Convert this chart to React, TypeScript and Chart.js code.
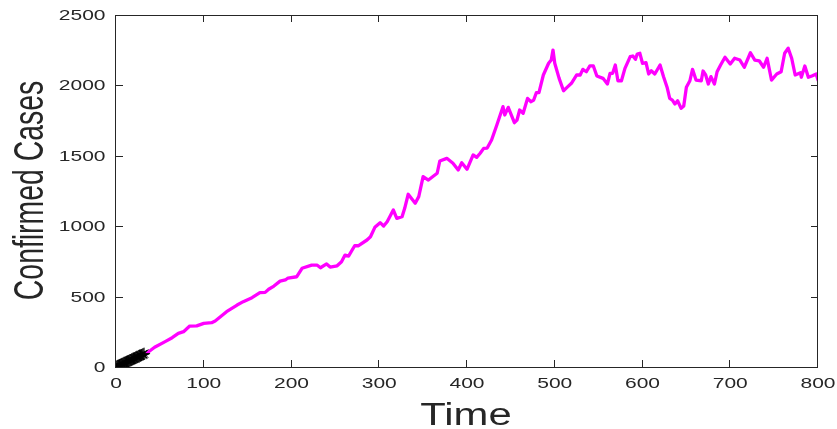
import React, { useEffect, useRef } from "react";
import { Chart, registerables } from "chart.js";

Chart.register(...registerables);

// Magenta curve: time and confirmed cases
const lineT = [0, 12, 24, 35, 44, 56, 64, 71, 77, 84, 92, 100, 109, 113, 119, 126, 138, 145, 155, 164, 170, 174, 180, 187, 193, 196, 206, 212, 223, 229, 233, 240, 244, 252, 257, 261, 265, 272, 276, 286, 290, 295, 301, 305, 309, 312, 316, 320, 326, 329, 333, 341, 345, 350, 356, 366, 369, 377, 384, 390, 394, 400, 407, 411, 415, 419, 423, 428, 434, 441, 443, 447, 454, 457, 460, 464, 469, 473, 476, 479, 482, 487, 493, 496, 498, 500, 505, 510, 514, 519, 525, 529, 532, 536, 540, 544, 548, 555, 560, 563, 566, 569, 572, 576, 580, 586, 589, 592, 594, 597, 600, 604, 607, 610, 614, 620, 624, 628, 631, 634, 637, 640, 644, 647, 650, 654, 657, 661, 667, 669, 672, 675, 678, 682, 685, 689, 694, 700, 705, 711, 716, 723, 728, 733, 738, 742, 747, 753, 758, 762, 766, 770, 774, 780, 781, 785, 789, 793, 798, 800];
const lineV = [2, 35, 68, 98, 140, 180, 208, 239, 251, 291, 292, 310, 315, 327, 357, 393, 440, 464, 492, 528, 530, 552, 575, 610, 618, 632, 641, 701, 724, 724, 705, 732, 710, 719, 748, 795, 788, 861, 861, 902, 925, 992, 1025, 1001, 1032, 1067, 1115, 1056, 1067, 1127, 1227, 1163, 1210, 1352, 1328, 1376, 1463, 1482, 1447, 1399, 1451, 1404, 1506, 1489, 1518, 1553, 1555, 1612, 1719, 1849, 1790, 1844, 1735, 1754, 1825, 1802, 1908, 1884, 1896, 1948, 1948, 2074, 2157, 2180, 2251, 2157, 2050, 1962, 1986, 2015, 2074, 2074, 2114, 2097, 2138, 2138, 2067, 2050, 2010, 2086, 2086, 2145, 2033, 2033, 2121, 2204, 2209, 2185, 2223, 2228, 2157, 2161, 2081, 2104, 2081, 2145, 2062, 1987, 1908, 1896, 1868, 1891, 1837, 1854, 1987, 2033, 2114, 2038, 2033, 2102, 2074, 2010, 2062, 2010, 2097, 2145, 2200, 2152, 2193, 2180, 2129, 2232, 2180, 2175, 2129, 2193, 2038, 2081, 2097, 2228, 2264, 2193, 2074, 2090, 2058, 2138, 2058, 2067, 2081, 2038];

// Black asterisk observations
const starT = [1, 2, 3, 4, 5, 6, 7, 8, 9, 10, 11, 12, 13, 14, 15, 16, 17, 18, 19, 20, 21, 22, 23, 24, 25, 26, 27, 28, 29, 30, 31, 32];
const starV = [4, 7, 9, 13, 15, 18, 21, 24, 27, 29, 33, 35, 38, 42, 44, 47, 50, 53, 55, 59, 62, 64, 67, 71, 73, 76, 80, 82, 85, 89, 91, 95];

const xTicks = [0, 100, 200, 300, 400, 500, 600, 700, 800];
const yTicks = [0, 500, 1000, 1500, 2000, 2500];
const xTitle = "Time";
const yTitle = "Confirmed Cases";

const TEXT = "#262626";

function stretchedText(ctx: CanvasRenderingContext2D, text: string, x: number, y: number, font: string, align: CanvasTextAlign, sx: number) {
  ctx.save();
  ctx.translate(x, y);
  ctx.scale(sx, 1);
  ctx.font = font;
  ctx.textAlign = align;
  ctx.textBaseline = "alphabetic";
  ctx.fillStyle = TEXT;
  ctx.fillText(text, 0, 0);
  ctx.restore();
}

const axesPlugin = {
  id: "matlabAxes",
  afterDatasetsDraw(chart: any) {
    const ctx: CanvasRenderingContext2D = chart.ctx;
    const { left, right, top, bottom } = chart.chartArea;
    const xs = chart.scales.x;
    const ys = chart.scales.y;
    ctx.save();
    ctx.strokeStyle = TEXT;
    ctx.lineWidth = 1;
    ctx.strokeRect(left - 0.5, top + 0.5, right - left, bottom - top);
    const tl = 7;
    ctx.beginPath();
    xTicks.forEach((t) => {
      const px = Math.round(xs.getPixelForValue(t)) - 0.5;
      ctx.moveTo(px, bottom);
      ctx.lineTo(px, bottom - tl);
      ctx.moveTo(px, top);
      ctx.lineTo(px, top + tl);
    });
    yTicks.forEach((v) => {
      const py = Math.round(ys.getPixelForValue(v)) + 0.5;
      ctx.moveTo(left, py);
      ctx.lineTo(left + tl, py);
      ctx.moveTo(right, py);
      ctx.lineTo(right - tl, py);
    });
    ctx.stroke();
    ctx.restore();

    const tickFont = '14px "Liberation Sans", Arial, sans-serif';
    xTicks.forEach((t) => {
      stretchedText(ctx, String(t), xs.getPixelForValue(t), 388, tickFont, "center", 1.5);
    });
    yTicks.forEach((v) => {
      stretchedText(ctx, String(v), 105.5, ys.getPixelForValue(v) + 5, tickFont, "right", 1.5);
    });

    stretchedText(ctx, xTitle, (left + right) / 2 - 1, 425, '31px "Liberation Sans", Arial, sans-serif', "center", 1.35);

    ctx.save();
    ctx.translate(43, (top + bottom) / 2 - 0.5);
    ctx.rotate(-Math.PI / 2);
    ctx.scale(1, 1.5);
    ctx.font = '28.4px "Liberation Sans", Arial, sans-serif';
    ctx.textAlign = "center";
    ctx.textBaseline = "alphabetic";
    ctx.fillStyle = TEXT;
    ctx.fillText(yTitle, 0, 0);
    ctx.restore();
  },
};

export default function App() {
  const ref = useRef<HTMLCanvasElement | null>(null);
  useEffect(() => {
    if (!ref.current) return;
    const chart = new Chart(ref.current, {
      type: "line",
      data: {
        datasets: [
          {
            data: starT.map((t, i) => ({ x: t, y: starV[i] })),
            showLine: false,
            pointStyle: "star",
            pointRadius: 6,
            borderColor: "#000000",
            backgroundColor: "#000000",
            borderWidth: 1,
            order: 0,
          },
          {
            data: lineT.map((t, i) => ({ x: t, y: lineV[i] })),
            borderColor: "#ff00ff",
            borderWidth: 3.3,
            borderJoinStyle: "round",
            borderCapStyle: "round",
            pointRadius: 0,
            tension: 0,
            fill: false,
            order: 1,
          },
        ],
      },
      options: {
        animation: false,
        responsive: false,
        devicePixelRatio: 1,
        layout: { padding: { left: 116, right: 19, top: 15, bottom: 62 } },
        plugins: { legend: { display: false }, tooltip: { enabled: false } },
        scales: {
          x: { type: "linear", min: 0, max: 800, display: false },
          y: { type: "linear", min: 0, max: 2500, display: false },
        },
      },
      plugins: [axesPlugin],
    });
    return () => chart.destroy();
  }, []);
  return (
    <div style={{ position: "absolute", left: 0, top: 0, width: 837, height: 429, background: "#fff" }}>
      <canvas ref={ref} width={837} height={429} style={{ display: "block" }} />
    </div>
  );
}
